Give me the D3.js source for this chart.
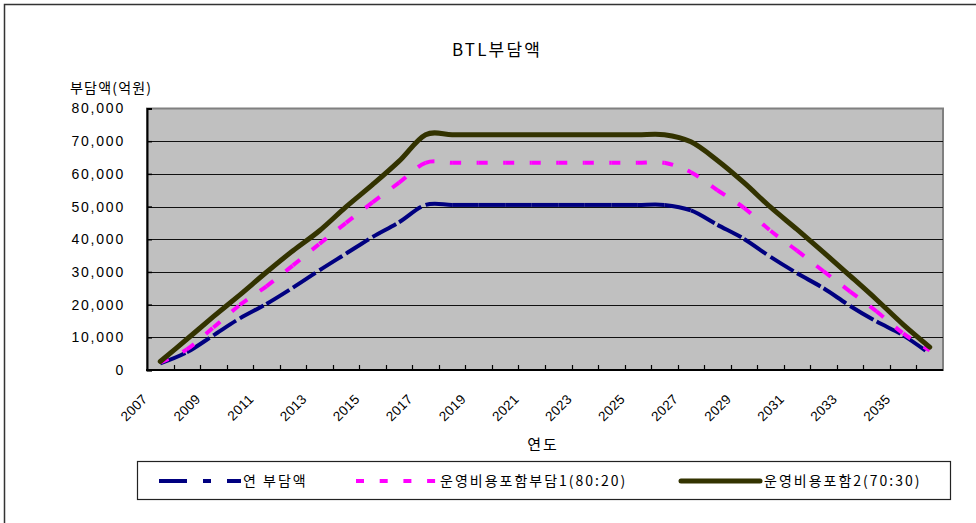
<!DOCTYPE html>
<html>
<head>
<meta charset="utf-8">
<script src="https://cdn.jsdelivr.net/npm/d3@7"></script>
<style>
  html, body { margin: 0; padding: 0; background: #fff; }
  svg { display: block; }
</style>
</head>
<body>
<svg id="chart" width="976" height="523"></svg>
<script>
// ---------------- DATA ----------------
const years = [2007, 2008, 2009, 2010, 2011, 2012, 2013, 2014, 2015, 2016,
               2017, 2018, 2019, 2020, 2021, 2022, 2023, 2024, 2025, 2026,
               2027, 2028, 2029, 2030, 2031, 2032, 2033, 2034, 2035, 2036];

// 연 부담액
const annualBurden = [2000, 5400, 10600, 15800, 20200, 25200, 30500, 35600, 40700, 45200,
                      50500, 50500, 50500, 50500, 50500, 50500, 50500, 50500, 50500, 50500,
                      48800, 44400, 40100, 34600, 29600, 25000, 19600, 14800, 10600, 5000];

// 운영비용포함부담1(80:20)
const withOps1 = [2300, 6300, 13000, 19900, 25600, 32000, 38600, 45000, 51300, 57300,
                  63400, 63400, 63400, 63400, 63400, 63400, 63400, 63400, 63400, 63400,
                  60500, 55000, 49600, 42600, 36500, 30200, 24000, 17900, 11200, 6000];

// 운영비용포함2(70:30)
const withOps2 = [2600, 9400, 16300, 23000, 29900, 36500, 42600, 49900, 56700, 63900,
                  72000, 72000, 72000, 72000, 72000, 72000, 72000, 72000, 72000, 72000,
                  69800, 64100, 57300, 49800, 43000, 36000, 28800, 21500, 13900, 7000];

const yTicks = [0, 10000, 20000, 30000, 40000, 50000, 60000, 70000, 80000];
const xLabelYears = years.filter((d, i) => i % 2 === 0);

const seriesNames = ["연 부담액", "운영비용포함부담1(80:20)", "운영비용포함2(70:30)"];
const titleText = "BTL부담액";
const yTitleText = "부담액(억원)";
const xTitleText = "연도";

// ---------------- LAYOUT ----------------
const svg = d3.select("#chart");
const plot = { left: 147, right: 943, top: 108.5, bottom: 370 };
const hangulFont = "'Noto Sans CJK KR', 'Noto Sans', sans-serif";
const numFont = "'Liberation Sans', Arial, sans-serif";

const x = d3.scaleBand().domain(years).range([plot.left, plot.right]).padding(0);
const y = d3.scaleLinear().domain([0, 80000]).range([plot.bottom, plot.top]);
const cx = d => x(d) + x.bandwidth() / 2;

// chart frame
svg.append("rect")
  .attr("x", 4.5).attr("y", 4.5).attr("width", 1000).attr("height", 1000)
  .attr("fill", "#fff").attr("stroke", "#333").attr("stroke-width", 1.5);

// title
svg.append("text")
  .attr("x", 497).attr("y", 56)
  .attr("text-anchor", "middle")
  .attr("font-family", hangulFont).attr("font-size", 17)
  .attr("letter-spacing", 2.2)
  .text(titleText);

// y title
svg.append("text")
  .attr("x", 70).attr("y", 93)
  .attr("font-family", hangulFont).attr("font-size", 14)
  .attr("letter-spacing", 1.2)
  .text(yTitleText);

// plot area
svg.append("rect")
  .attr("x", plot.left).attr("y", plot.top)
  .attr("width", plot.right - plot.left).attr("height", plot.bottom - plot.top)
  .attr("fill", "#c0c0c0").attr("stroke", "#808080").attr("stroke-width", 2);

// gridlines
svg.append("g").selectAll("line")
  .data(yTicks.filter(d => d > 0 && d < 80000))
  .join("line")
  .attr("x1", plot.left).attr("x2", plot.right)
  .attr("y1", d => Math.round(y(d)) + 0.5).attr("y2", d => Math.round(y(d)) + 0.5)
  .attr("stroke", "#111").attr("stroke-width", 1);

// y axis
const yAxis = d3.axisLeft(y).tickValues(yTicks)
  .tickSize(-5).tickPadding(22)
  .tickFormat(d3.format(","));
const gy = svg.append("g").attr("transform", `translate(${plot.left},0)`).call(yAxis);
gy.select(".domain").attr("stroke", "#000").attr("stroke-width", 2);
gy.selectAll(".tick line").attr("stroke", "#000").attr("stroke-width", 1.5);
gy.selectAll(".tick text")
  .attr("font-family", numFont).attr("font-size", 14)
  .attr("letter-spacing", 1.8).attr("fill", "#000");

// x axis (ticks between categories, inside)
const gx = svg.append("g").attr("transform", `translate(0,${plot.bottom})`);
gx.append("line")
  .attr("x1", plot.left - 1).attr("x2", plot.right)
  .attr("y1", 0).attr("y2", 0)
  .attr("stroke", "#000").attr("stroke-width", 2);
gx.selectAll("line.tk")
  .data(years.slice(1))
  .join("line").attr("class", "tk")
  .attr("x1", d => Math.round(x(d)) + 0.5).attr("x2", d => Math.round(x(d)) + 0.5)
  .attr("y1", 0).attr("y2", -5)
  .attr("stroke", "#000").attr("stroke-width", 1.2);
gx.selectAll("text")
  .data(xLabelYears)
  .join("text")
  .attr("transform", d => `translate(${cx(d) - 12},${30}) rotate(-45)`)
  .attr("text-anchor", "end")
  .attr("font-family", numFont).attr("font-size", 13.5)
  .attr("letter-spacing", 0.3)
  .text(d => d);

// x title
svg.append("text")
  .attr("x", 543).attr("y", 450)
  .attr("text-anchor", "middle")
  .attr("font-family", hangulFont).attr("font-size", 15)
  .attr("letter-spacing", 2)
  .text(xTitleText);

// --------- lines (Excel-like smoothing, dash pattern restarting per segment) ---------
function segmentPaths(values) {
  const segs = [];
  let px = 0, py = 0;
  const ctx = {
    moveTo(a, b) { px = a; py = b; },
    lineTo(a, b) { segs.push(`M${px},${py}L${a},${b}`); px = a; py = b; },
    bezierCurveTo(a, b, c, d, e, f) {
      segs.push(`M${px},${py}C${a},${b},${c},${d},${e},${f}`); px = e; py = f;
    },
    closePath() {}
  };
  d3.line()
    .x((d, i) => cx(years[i]))
    .y(d => y(d))
    .curve(d3.curveCardinal.tension(0))
    .context(ctx)(values);
  return segs;
}

const lineSmooth = d3.line()
  .x((d, i) => cx(years[i]))
  .y(d => y(d))
  .curve(d3.curveCardinal.tension(0));

const gLines = svg.append("g");

gLines.append("g").selectAll("path")
  .data(segmentPaths(annualBurden))
  .join("path")
  .attr("d", d => d)
  .attr("fill", "none").attr("stroke", "#000080").attr("stroke-width", 4)
  .attr("stroke-dasharray", "27,15,7,15");

gLines.append("g").selectAll("path")
  .data(segmentPaths(withOps1))
  .join("path")
  .attr("d", d => d)
  .attr("fill", "none").attr("stroke", "#ff00ff").attr("stroke-width", 4)
  .attr("stroke-dasharray", "9,15.5");

gLines.append("path")
  .attr("d", lineSmooth(withOps2))
  .attr("fill", "none").attr("stroke", "#333300").attr("stroke-width", 5)
  .attr("stroke-linejoin", "round").attr("stroke-linecap", "round");

// ---------------- LEGEND ----------------
const lg = svg.append("g");
lg.append("rect")
  .attr("x", 137.5).attr("y", 461.5).attr("width", 813).attr("height", 38)
  .attr("fill", "#fff").attr("stroke", "#222").attr("stroke-width", 1.2);

const legendItems = [
  { name: seriesNames[0], x0: 159, x1: 241, tx: 243, color: "#000080", w: 4, dash: "28,16,8,16", cap: "butt" },
  { name: seriesNames[1], x0: 356, x1: 436, tx: 440, color: "#ff00ff", w: 4, dash: "8,15.7", cap: "butt" },
  { name: seriesNames[2], x0: 681, x1: 760, tx: 764, color: "#333300", w: 5, dash: null, cap: "round" }
];
const ly = 481;
legendItems.forEach(it => {
  lg.append("line")
    .attr("x1", it.x0).attr("x2", it.x1).attr("y1", ly).attr("y2", ly)
    .attr("stroke", it.color).attr("stroke-width", it.w)
    .attr("stroke-linecap", it.cap)
    .attr("stroke-dasharray", it.dash);
  lg.append("text")
    .attr("x", it.tx).attr("y", ly).attr("dy", "0.35em")
    .attr("font-family", hangulFont).attr("font-size", 14)
    .attr("letter-spacing", 2)
    .text(it.name);
});
</script>
</body>
</html>
